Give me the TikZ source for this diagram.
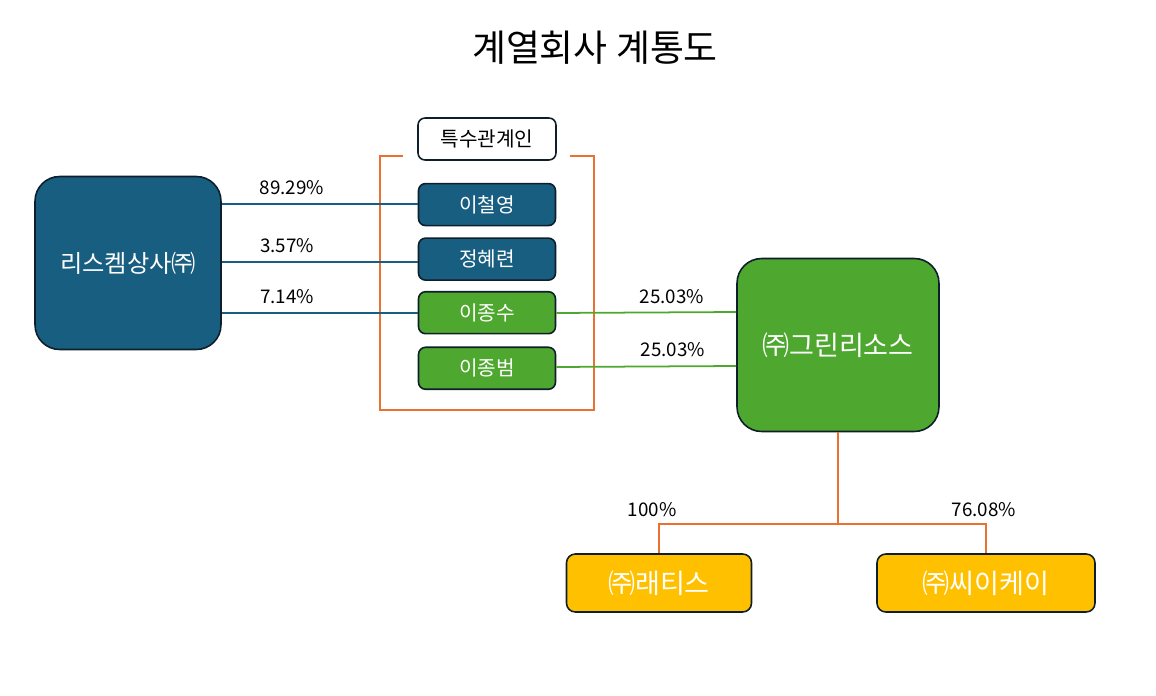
\documentclass[tikz,border=0pt]{standalone}
\usepackage{fontspec}
\setmainfont{Noto Sans CJK KR}
\usetikzlibrary{positioning}
\definecolor{Navy}{HTML}{185E81}
\definecolor{Leaf}{HTML}{4EA72E}
\definecolor{Gold}{HTML}{FFC000}
\definecolor{Rust}{HTML}{E97132}
\definecolor{Edge}{HTML}{0E1E2A}

\begin{document}
\begin{tikzpicture}[
  x=0.02cm,y=-0.02cm,
  big/.style={rounded corners=14pt,draw=Edge,line width=0.9pt,text=white,minimum width=3.72cm,minimum height=3.46cm,align=center},
  person/.style={rounded corners=4pt,draw=Edge,line width=0.9pt,text=white,minimum width=2.74cm,minimum height=0.84cm,font=\fontsize{11.5}{13}\selectfont},
  sub/.style={rounded corners=5pt,draw=Edge,line width=0.9pt,fill=Gold,text=white,minimum height=1.16cm,font=\fontsize{15.4}{18}\selectfont},
  pct/.style={font=\fontsize{10.7}{12}\selectfont},
  navyline/.style={draw=Navy,line width=1pt},
  leafline/.style={draw=Leaf,line width=1pt},
  rustline/.style={draw=Rust,line width=1pt}
]
\useasboundingbox (0,0) rectangle (1156,696);
\node[font=\fontsize{21}{25}\selectfont] (title) at (595,48) {계열회사 계통도};
\node[big,fill=Navy,font=\fontsize{13.8}{16}\selectfont] (ris) at (128,263) {리스켐상사㈜};
\node[person,draw=Edge,fill=white,text=black,minimum width=2.76cm] (rel) at (487,139) {특수관계인};
\node[person,fill=Navy,below=0.44cm of rel] (lee1) {이철영};
\node[person,fill=Navy,below=0.22cm of lee1] (jung) {정혜련};
\node[person,fill=Leaf,below=0.2cm of jung] (lee2) {이종수};
\node[person,fill=Leaf,below=0.24cm of lee2] (lee3) {이종범};
\node[big,fill=Leaf,minimum width=4.04cm,font=\fontsize{15.4}{18}\selectfont] (green) at (838,345) {㈜그린리소스};
\node[sub,minimum width=3.7cm] (ratis) at (659,583) {㈜래티스};
\node[sub,minimum width=4.36cm] (cek) at (986,583) {㈜씨이케이};
% bracket round the related persons
\draw[rustline] (403,156) -- (380,156) -- (380,410) -- (594,410) -- (594,156) -- (570,156);
% holdings
\draw[navyline] (ris.east |- 0,204) -- (lee1.west |- 0,204);
\draw[navyline] (ris.east |- 0,262) -- (jung.west |- 0,262);
\draw[navyline] (ris.east |- 0,313) -- (lee2.west |- 0,313);
\draw[leafline] (lee2.east |- 0,313) -- (green.west |- 0,312);
\draw[leafline] (lee3.east |- 0,367) -- (green.west |- 0,366);
\coordinate (split) at (838,524);
\draw[rustline] (green.south) -- (split);
\draw[rustline] (ratis.north) |- (split) -| (cek.north);
\node[pct] (p1) at (292,188) {89.29\%};
\node[pct] (p2) at (287,246) {3.57\%};
\node[pct] (p3) at (287,297) {7.14\%};
\node[pct] (p4) at (672,297) {25.03\%};
\node[pct] (p5) at (673,350) {25.03\%};
\node[pct] (p6) at (652,510) {100\%};
\node[pct] (p7) at (984,510) {76.08\%};
\end{tikzpicture}
\end{document}
